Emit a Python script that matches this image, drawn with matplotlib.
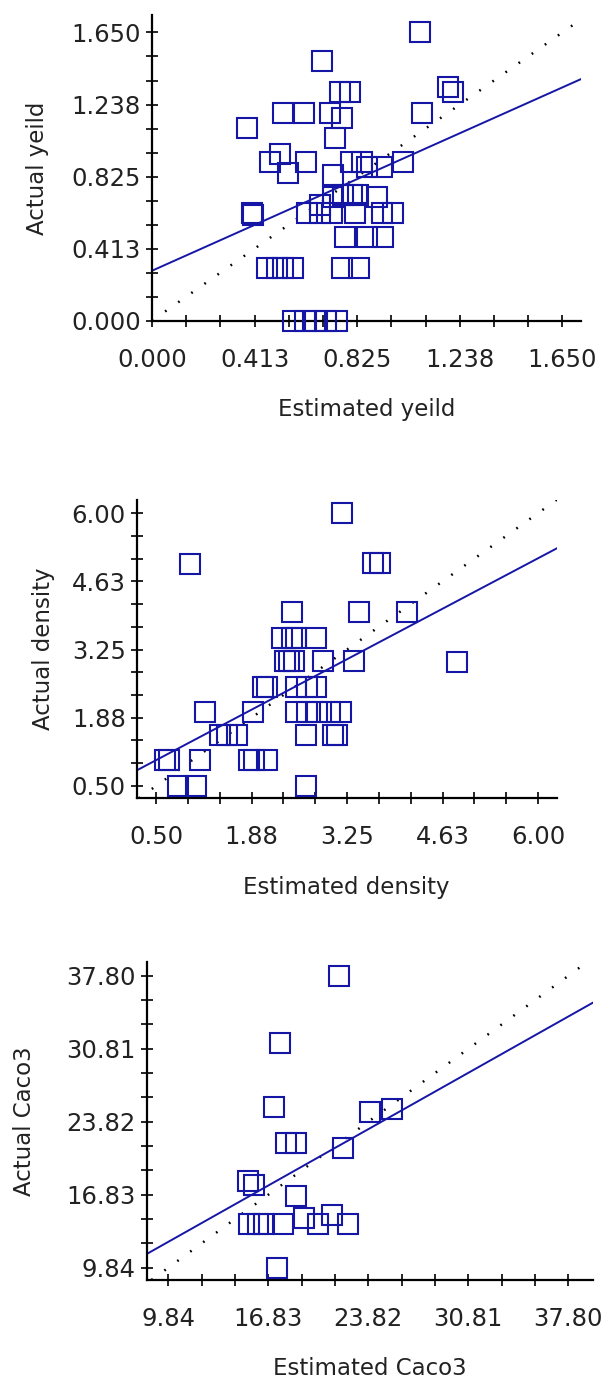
import numpy as np
import matplotlib
matplotlib.use("Agg")
import matplotlib.pyplot as plt

# ---- yield panel ----
yield_est = [1.078, 0.682, 0.756, 0.796, 1.191, 1.212, 1.084, 0.525, 0.610, 0.716,
             0.764, 0.381, 0.736, 0.515, 0.474, 0.548, 0.619, 0.729, 0.799, 0.843,
             0.863, 0.924, 1.011, 0.903, 0.676, 0.729, 0.769, 0.803, 0.830, 0.401,
             0.405, 0.622, 0.676, 0.722, 0.816, 0.924, 0.970, 0.776, 0.863, 0.930,
             0.461, 0.501, 0.525, 0.568, 0.765, 0.831, 0.568, 0.615, 0.655, 0.700,
             0.743]
yield_act = [1.650, 1.488, 1.311, 1.311, 1.340, 1.311, 1.191, 1.191, 1.191, 1.191,
             1.160, 1.101, 1.044, 0.954, 0.907, 0.844, 0.910, 0.832, 0.910, 0.910,
             0.882, 0.882, 0.908, 0.706, 0.662, 0.710, 0.720, 0.720, 0.720, 0.615,
             0.605, 0.615, 0.615, 0.615, 0.615, 0.615, 0.615, 0.477, 0.477, 0.477,
             0.300, 0.300, 0.300, 0.300, 0.300, 0.300, 0.000, 0.000, 0.000, 0.000,
             0.000]
yield_fit = [0.286, 0.636]          # intercept, slope
yield_ticks = [0.0, 0.4125, 0.825, 1.2375, 1.65]
yield_labels = ["0.000", "0.413", "0.825", "1.238", "1.650"]

# ---- density panel ----
dens_est = [3.18, 0.99, 3.62, 3.73, 2.45, 3.42, 4.12, 4.84,
            2.32, 2.45, 2.52, 2.80,
            2.35, 2.42, 2.48, 2.90, 3.35,
            2.04, 2.09, 2.51, 2.67, 2.80,
            1.20, 1.90, 2.52, 2.67, 2.81, 3.00, 3.17,
            1.42, 1.52, 1.66, 2.66, 3.05, 3.10,
            0.63, 0.68, 1.13, 1.84, 1.91, 2.10,
            0.82, 1.08, 2.66]
dens_act = [6.00, 4.98, 4.99, 4.99, 4.00, 4.00, 4.00, 3.00,
            3.49, 3.49, 3.49, 3.49,
            3.01, 3.01, 3.01, 3.01, 3.01,
            2.50, 2.50, 2.50, 2.50, 2.50,
            2.00, 2.00, 2.00, 2.00, 2.00, 2.00, 2.00,
            1.53, 1.53, 1.53, 1.53, 1.53, 1.53,
            1.02, 1.02, 1.02, 1.02, 1.02, 1.02,
            0.50, 0.50, 0.50]
dens_fit = [0.65, 0.74]
dens_ticks = [0.5, 1.875, 3.25, 4.625, 6.0]
dens_labels = ["0.50", "1.88", "3.25", "4.63", "6.00"]

# ---- CaCO3 panel ----
caco_est = [21.79, 17.65, 17.23, 18.04, 18.74, 22.03, 23.94, 25.50, 15.43, 15.80,
            18.76, 15.48, 16.08, 16.55, 17.88, 19.32, 20.32, 21.26, 22.42, 17.41]
caco_act = [37.80, 31.32, 25.26, 21.75, 21.75, 21.27, 24.78, 25.03, 18.17, 17.76,
            16.73, 13.99, 13.99, 13.99, 13.99, 14.56, 13.99, 14.88, 13.99, 9.84]
caco_fit = [4.72, 0.772]
caco_ticks = [9.84, 16.83, 23.82, 30.81, 37.80]
caco_labels = ["9.84", "16.83", "23.82", "30.81", "37.80"]

W, H = 612, 1389
BLUE = "#1616a6"
TXT = "#222222"
plt.rcParams["font.family"] = ["DejaVu Sans"]

fig = plt.figure(figsize=(W / 100, H / 100), dpi=100)


def rect(l, t, r, b):
    return [l / W, 1 - b / H, (r - l) / W, (b - t) / H]


panels = [
    dict(box=(152, 15, 581, 320.7), x=yield_est, y=yield_act, fit=yield_fit,
         ticks=yield_ticks, labels=yield_labels, lim=(0.0, 1.725), ylim=(0.0, 1.75),
         xl="Estimated yeild", yl="Actual yeild", xlpos=-0.292, ylpos=-0.266),
    dict(box=(136.7, 499.8, 556.7, 798.3), x=dens_est, y=dens_act, fit=dens_fit,
         ticks=dens_ticks, labels=dens_labels, lim=(0.22, 6.27), ylim=(0.25, 6.27),
         xl="Estimated density", yl="Actual density", xlpos=-0.300, ylpos=-0.223),
    dict(box=(146.7, 962.2, 592.7, 1280), x=caco_est, y=caco_act, fit=caco_fit,
         ticks=caco_ticks, labels=caco_labels, lim=(8.33, 39.5), ylim=(8.66, 39.1),
         xl="Estimated Caco3", yl="Actual Caco3", xlpos=-0.280, ylpos=-0.273),
]

for p in panels:
    ax = fig.add_axes(rect(*p["box"]))
    ax.plot(p["x"], p["y"], ls="none", marker="s", ms=15, mfc="none",
            mec=BLUE, mew=1.5, zorder=3, clip_on=False)
    ax.axline((0, p["fit"][0]), slope=p["fit"][1], color=BLUE, lw=1.4, zorder=2)
    ax.axline((0, 0), slope=1, color="black", lw=1.8, dashes=(0.7, 5.7), zorder=1)

    ax.set_xlim(*p["lim"])
    ax.set_ylim(*p["ylim"])
    step = (p["ticks"][1] - p["ticks"][0]) / 3
    minor = np.arange(p["ticks"][0], p["ticks"][-1] + step / 2, step)
    for axis in (ax.xaxis, ax.yaxis):
        axis.set_ticks(p["ticks"])
        axis.set_ticklabels(p["labels"])
        axis.set_ticks(minor, minor=True)

    for s in ("top", "right"):
        ax.spines[s].set_visible(False)
    for s in ("left", "bottom"):
        ax.spines[s].set_linewidth(1.6)
    ax.tick_params(which="both", direction="inout", length=8.6, width=1.2,
                   colors="black", labelcolor=TXT, labelsize=17.5)
    ax.tick_params(axis="x", which="major", pad=15)
    ax.tick_params(axis="y", which="major", pad=3.6)

    ax.set_xlabel(p["xl"], fontsize=16.5, color=TXT, va="center")
    ax.set_ylabel(p["yl"], fontsize=16.5, color=TXT, va="center")
    ax.xaxis.set_label_coords(0.5, p["xlpos"])
    ax.yaxis.set_label_coords(p["ylpos"], 0.5)

fig.savefig("out.png", dpi=100)
